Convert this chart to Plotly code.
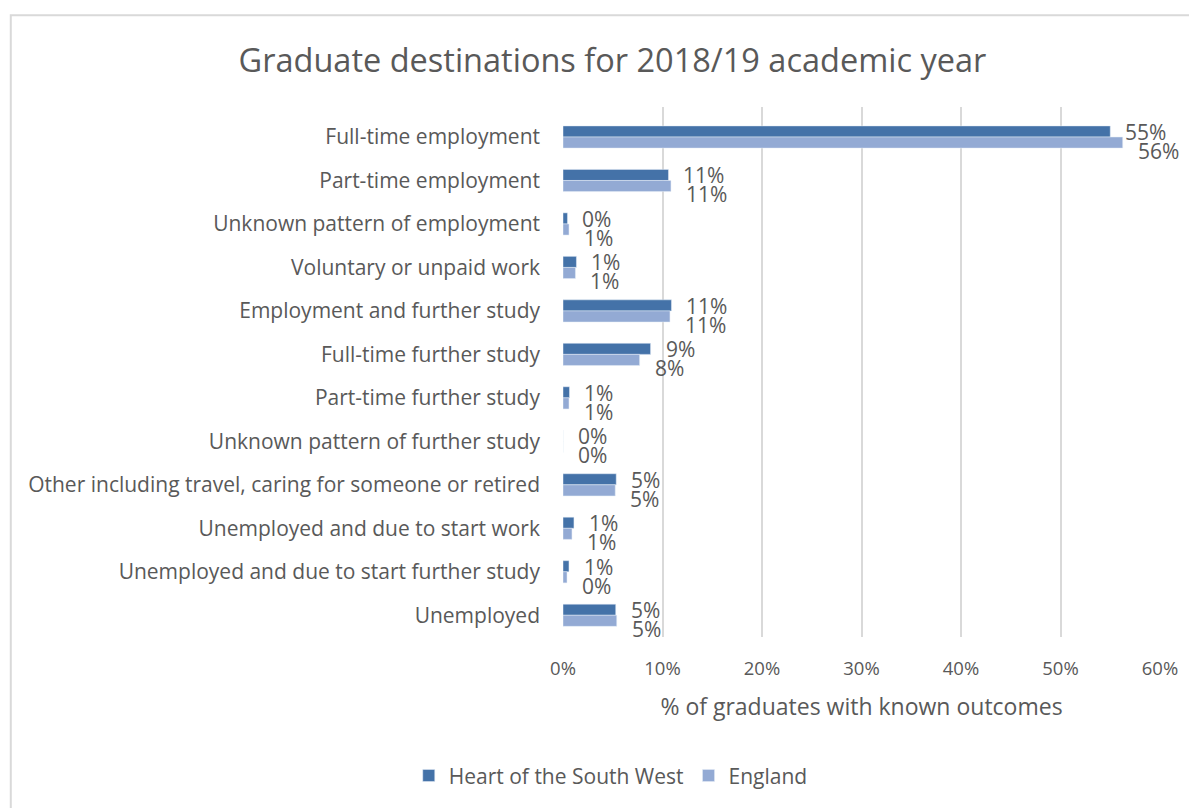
import plotly.graph_objects as go

categories = [
    "Full-time employment",
    "Part-time employment",
    "Unknown pattern of employment",
    "Voluntary or unpaid work",
    "Employment and further study",
    "Full-time further study",
    "Part-time further study",
    "Unknown pattern of further study",
    "Other including travel, caring for someone or retired",
    "Unemployed and due to start work",
    "Unemployed and due to start further study",
    "Unemployed",
]
hsw_values = [55.0, 10.6, 0.45, 1.35, 10.9, 8.8, 0.65, 0.0, 5.35, 1.1, 0.6, 5.3]
eng_values = [56.25, 10.85, 0.6, 1.25, 10.75, 7.7, 0.6, 0.0, 5.25, 0.9, 0.4, 5.4]
series_names = ["Heart of the South West", "England"]
x_ticks = [0, 10, 20, 30, 40, 50, 60]
x_tick_labels = ["0%", "10%", "20%", "30%", "40%", "50%", "60%"]

FONT = "Open Sans"
TXT = "#595959"
C_HSW = "#4472A8"
C_ENG = "#93AAD4"

fig = go.Figure()
fig.add_trace(go.Bar(y=categories, x=hsw_values, name=series_names[0], orientation="h",
                     marker=dict(color=C_HSW)))
fig.add_trace(go.Bar(y=categories, x=eng_values, name=series_names[1], orientation="h",
                     marker=dict(color=C_ENG)))

annotations = []
for cat, v in zip(categories, hsw_values):
    annotations.append(dict(x=v, y=cat, xref="x", yref="y", text=f"{round(v):.0f}%",
                            showarrow=False, xanchor="left", yanchor="middle",
                            xshift=13, yshift=5, font=dict(family=FONT, size=21, color=TXT)))
for cat, v in zip(categories, eng_values):
    annotations.append(dict(x=v, y=cat, xref="x", yref="y", text=f"{round(v):.0f}%",
                            showarrow=False, xanchor="left", yanchor="middle",
                            xshift=13, yshift=-14, font=dict(family=FONT, size=21, color=TXT)))

fig.update_layout(
    width=1197, height=808,
    paper_bgcolor="white", plot_bgcolor="white",
    margin=dict(l=555, r=45, t=99, b=179, autoexpand=False),
    barmode="group", bargap=0.49, bargroupgap=0,
    font=dict(family=FONT, color=TXT),
    title=dict(text="Graduate destinations for 2018/19 academic year",
               x=0.505, xanchor="center", xref="container", y=0.935, yanchor="middle",
               font=dict(family=FONT, size=32.5, color=TXT)),
    xaxis=dict(range=[0, 60], tickvals=x_ticks, ticktext=x_tick_labels,
               showgrid=True, gridcolor="#D9D9D9", gridwidth=2, zeroline=False,
               showline=False, ticks="", ticklabelstandoff=18,
               tickfont=dict(family=FONT, size=18.5, color=TXT),
               title=dict(text="% of graduates with known outcomes", standoff=20,
                          font=dict(family=FONT, size=23, color=TXT))),
    yaxis=dict(autorange="reversed", showgrid=False, zeroline=False, showline=False,
               ticks="", ticklabelstandoff=22,
               tickfont=dict(family=FONT, size=21, color=TXT)),
    legend=dict(orientation="h", x=0.08, xanchor="center", y=-0.262, yanchor="middle",
                font=dict(family=FONT, size=21, color=TXT), itemwidth=30,
                traceorder="normal"),
    annotations=annotations,
    shapes=[dict(type="rect", xref="paper", yref="paper",
                 x0=-0.925, x1=1.07, y0=-0.4, y1=1.173,
                 line=dict(color="#D9D9D9", width=2), fillcolor="rgba(0,0,0,0)", layer="below")],
)

fig.write_html("out.html")
